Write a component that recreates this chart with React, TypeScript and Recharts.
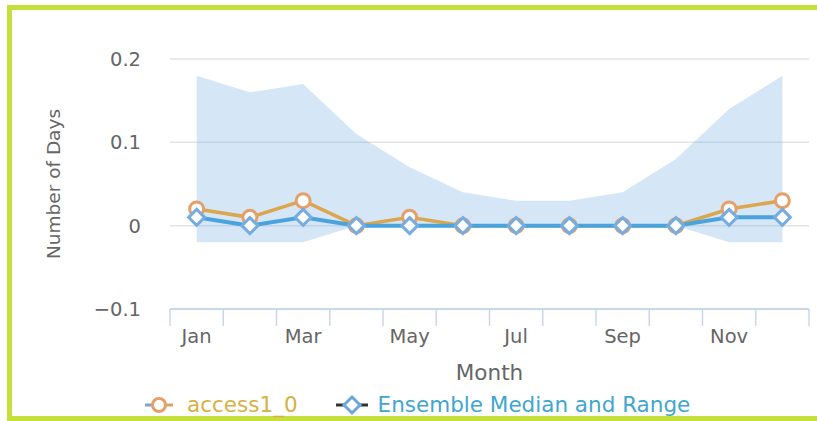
import React from 'react';
import { ComposedChart, Area, Line, XAxis, YAxis, CartesianGrid, Legend } from 'recharts';

const months = ['Jan', 'Feb', 'Mar', 'Apr', 'May', 'Jun', 'Jul', 'Aug', 'Sep', 'Oct', 'Nov', 'Dec'];
const access1_0 = [0.02, 0.01, 0.03, 0, 0.01, 0, 0, 0, 0, 0, 0.02, 0.03];
const ensembleMedian = [0.01, 0, 0.01, 0, 0, 0, 0, 0, 0, 0, 0.01, 0.01];
const ensembleLow = [-0.02, -0.02, -0.02, 0, 0, 0, 0, 0, 0, 0, -0.02, -0.02];
const ensembleHigh = [0.18, 0.16, 0.17, 0.11, 0.07, 0.04, 0.03, 0.03, 0.04, 0.08, 0.14, 0.18];
const yTicks = [-0.1, 0, 0.1, 0.2];

const data = months.map((m, i) => ({
  idx: i,
  month: m,
  access: access1_0[i],
  median: ensembleMedian[i],
  low: ensembleLow[i],
  high: ensembleHigh[i],
}));

const boundaryTicks = [...months.map((_, i) => i - 0.5), months.length - 0.5];
const labelTicks = months.map((_, i) => i).filter((i) => i % 2 === 0);

const FONT = '"DejaVu Sans", "Lucida Grande", Verdana, sans-serif';
const AXIS_COLOR = '#ccd6eb';
const TEXT_COLOR = '#666666';

const CircleDot = (props: any) => {
  const { cx, cy } = props;
  if (cx == null || cy == null) return null;
  return <circle cx={cx} cy={cy} r={7} fill="#ffffff" stroke="#e5a06a" strokeWidth={3} />;
};

const DiamondDot = (props: any) => {
  const { cx, cy } = props;
  if (cx == null || cy == null) return null;
  const s = 8;
  return (
    <polygon
      points={`${cx},${cy - s} ${cx + s},${cy} ${cx},${cy + s} ${cx - s},${cy}`}
      fill="#ffffff"
      stroke="#77ace0"
      strokeWidth={3}
    />
  );
};

const EmptyTick = () => <g />;

const renderLegend = () => (
  <div
    style={{
      display: 'flex',
      alignItems: 'center',
      height: 24,
      paddingLeft: 145,
      fontFamily: FONT,
      fontSize: 21.5,
      lineHeight: '24px',
      whiteSpace: 'nowrap',
    }}
  >
    <svg width={28} height={24} style={{ marginRight: 14 }}>
      <line x1={0} y1={12} x2={8} y2={12} stroke="#7aa7cc" strokeWidth={3} />
      <line x1={20} y1={12} x2={28} y2={12} stroke="#e0a060" strokeWidth={3} />
      <circle cx={14} cy={12} r={6.5} fill="#ffffff" stroke="#e5a06a" strokeWidth={3} />
    </svg>
    <span style={{ color: '#d6b144', marginRight: 38 }}>access1_0</span>
    <svg width={32} height={24} style={{ marginRight: 10 }}>
      <line x1={0} y1={12} x2={9} y2={12} stroke="#333333" strokeWidth={3} />
      <line x1={23} y1={12} x2={32} y2={12} stroke="#333333" strokeWidth={3} />
      <polygon points="16,4 24,12 16,20 8,12" fill="#ffffff" stroke="#6aa6dc" strokeWidth={3} />
    </svg>
    <span style={{ color: '#3fa6cf' }}>Ensemble Median and Range</span>
  </div>
);

const YTitle = (props: any) => {
  const vb = props.viewBox || {};
  const cx = (vb.x || 0) + 53;
  const cy = (vb.y || 0) + (vb.height || 0) / 2;
  return (
    <text
      x={cx}
      y={cy}
      transform={`rotate(-90, ${cx}, ${cy})`}
      textAnchor="middle"
      dominantBaseline="central"
      fill={TEXT_COLOR}
      fontSize={18.5}
      fontFamily={FONT}
    >
      Number of Days
    </text>
  );
};

const XTitle = (props: any) => {
  const vb = props.viewBox || {};
  const cx = (vb.x || 0) + (vb.width || 0) / 2;
  const cy = (vb.y || 0) + 62;
  return (
    <text
      x={cx}
      y={cy}
      textAnchor="middle"
      dominantBaseline="central"
      fill={TEXT_COLOR}
      fontSize={21.5}
      fontFamily={FONT}
    >
      Month
    </text>
  );
};

const fmtY = (v: number) => (v < 0 ? '\u2212' + Math.abs(v) : String(v));

export default function App() {
  return (
    <div
      style={{
        position: 'absolute',
        left: 0,
        top: 0,
        width: 817,
        height: 421,
        overflow: 'hidden',
        background: '#ffffff',
      }}
    >
      <div
        style={{
          position: 'absolute',
          left: 7,
          top: 5,
          width: 805,
          height: 406,
          borderLeft: '5px solid #c5e03b',
          borderTop: '5px solid #c5e03b',
          borderBottom: '5px solid #c5e03b',
        }}
      />
      <div style={{ position: 'absolute', left: 0, top: 0 }}>
        <ComposedChart
          width={817}
          height={421}
          data={data}
          margin={{ top: 59, right: 8, left: 0, bottom: 4 }}
          style={{ fontFamily: FONT }}
        >
          <CartesianGrid
            xAxisId={0}
            horizontal={true}
            vertical={false}
            stroke="#e3e3e3"
            strokeWidth={1.5}
          />
          <XAxis
            xAxisId={0}
            type="number"
            dataKey="idx"
            domain={[-0.5, 11.5]}
            ticks={boundaryTicks}
            interval={0}
            tick={<EmptyTick />}
            tickSize={17}
            height={1}
            axisLine={{ stroke: AXIS_COLOR, strokeWidth: 2 }}
            tickLine={{ stroke: AXIS_COLOR, strokeWidth: 1.5 }}
          />
          <XAxis
            xAxisId="labels"
            type="number"
            dataKey="idx"
            domain={[-0.5, 11.5]}
            ticks={labelTicks}
            interval={0}
            tickFormatter={(i: number) => months[i]}
            tick={{ fill: TEXT_COLOR, fontSize: 19.5, fontFamily: FONT }}
            tickSize={0}
            tickMargin={19}
            axisLine={false}
            tickLine={false}
            height={83}
            label={<XTitle />}
          />
          <YAxis
            type="number"
            domain={[-0.1, 0.2]}
            ticks={yTicks}
            interval={0}
            width={170}
            axisLine={false}
            tickLine={false}
            tickSize={0}
            tickMargin={29}
            tickFormatter={fmtY}
            tick={{ fill: TEXT_COLOR, fontSize: 19.5, fontFamily: FONT }}
            label={<YTitle />}
          />
          <Legend verticalAlign="bottom" content={renderLegend} />
          <Area
            type="linear"
            dataKey={(d: any) => [d.low, d.high]}
            name="Ensemble Range"
            fill="#74aee6"
            fillOpacity={0.3}
            stroke="none"
            dot={false}
            activeDot={false}
            isAnimationActive={false}
            legendType="none"
          />
          <Line
            type="linear"
            dataKey="access"
            name="access1_0"
            stroke="#dba64f"
            strokeWidth={3.5}
            dot={<CircleDot />}
            activeDot={false}
            isAnimationActive={false}
          />
          <Line
            type="linear"
            dataKey="median"
            name="Ensemble Median and Range"
            stroke="#4aa3dd"
            strokeWidth={4}
            dot={<DiamondDot />}
            activeDot={false}
            isAnimationActive={false}
          />
        </ComposedChart>
      </div>
    </div>
  );
}
